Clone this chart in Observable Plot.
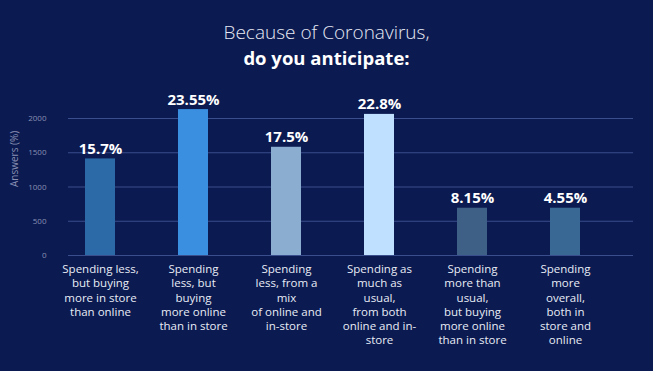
<!DOCTYPE html>
<html>
<head>
<meta charset="utf-8">
<script src="https://cdn.jsdelivr.net/npm/d3@7"></script>
<script src="https://cdn.jsdelivr.net/npm/@observablehq/plot@0.6"></script>
<style>
  html, body { margin: 0; padding: 0; background: #0b1a50; }
  body { width: 653px; height: 371px; overflow: hidden; font-family: "Open Sans", sans-serif; }
  #title { height: 80px; box-sizing: border-box; padding-top: 20px; text-align: center; color: #ffffff; }
  #title .l1 { font-size: 19px; font-weight: 300; line-height: 25px; color: #e6e9f4; }
  #title .l2 { font-size: 18.5px; font-weight: 700; line-height: 25px; }
</style>
</head>
<body>
<div id="title"><div class="l1">Because of Coronavirus,</div><div class="l2">do you anticipate:</div></div>
<div id="chart"></div>
<script>
const categories = ["c1", "c2", "c3", "c4", "c5", "c6"];
const categoryLabels = [
  "Spending less,\nbut buying\nmore in store\nthan online",
  "Spending\nless, but\nbuying\nmore online\nthan in store",
  "Spending\nless, from a\nmix\nof online and\nin-store",
  "Spending as\nmuch as\nusual,\nfrom both\nonline and in-\nstore",
  "Spending\nmore than\nusual,\nbut buying\nmore online\nthan in store",
  "Spending\nmore\noverall,\nboth in\nstore and\nonline"
];
const answers = [1410, 2130, 1580, 2060, 690, 690];
const percentLabels = ["15.7%", "23.55%", "17.5%", "22.8%", "8.15%", "4.55%"];
const barColors = ["#2b6aa6", "#3a8fe0", "#8badd0", "#bfe1ff", "#3e5f86", "#3a6894"];
const yTicks = [0, 500, 1000, 1500, 2000];
const yLabel = "Answers (%)";

const data = categories.map((c, i) => ({
  key: c, label: categoryLabels[i], value: answers[i], pct: percentLabels[i], color: barColors[i]
}));
const labelOf = Object.fromEntries(categories.map((c, i) => [c, categoryLabels[i]]));

const chart = Plot.plot({
  width: 653,
  height: 291,
  marginLeft: 68,
  marginRight: 20,
  marginTop: 38,
  marginBottom: 116,
  style: { background: "transparent", fontFamily: "Open Sans, sans-serif", overflow: "visible" },
  x: { domain: categories, paddingInner: 0.68, paddingOuter: 0.352, align: 0.24, axis: null },
  y: { domain: [0, 2000], axis: null },
  color: { type: "identity" },
  marks: [
    Plot.gridY(yTicks, { stroke: "#3a4d8c", strokeOpacity: 1, strokeWidth: 1 }),
    Plot.axisY(yTicks, {
      tickSize: 0, tickPadding: 22, fontSize: 8, fill: "#8990b4",
      tickFormat: d => String(d), label: null
    }),
    Plot.text([yLabel], {
      text: d => d, frameAnchor: "left", rotate: -90, dx: -54,
      fontSize: 10, fill: "#8990b4"
    }),
    Plot.barY(data, { x: "key", y: "value", fill: "color" }),
    Plot.text(data, {
      x: "key", y: "value", text: "pct", dy: -5, lineAnchor: "bottom",
      fill: "#ffffff", fontSize: 15, fontWeight: 700
    }),
    Plot.axisX({
      tickSize: 0, tickPadding: 8, fontSize: 11.5, fill: "#e8ecf6",
      lineHeight: 1.22, tickFormat: d => labelOf[d], label: null
    })
  ]
});
document.getElementById("chart").appendChild(chart);
</script>
</body>
</html>
